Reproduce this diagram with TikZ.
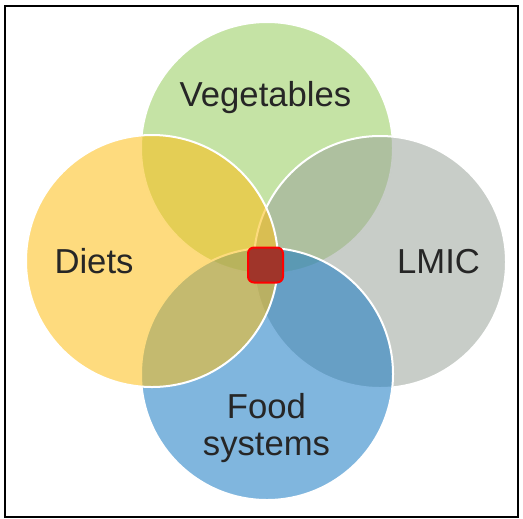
\documentclass[tikz,border=0pt]{standalone}
\usepackage{fontspec}
\setmainfont{Liberation Sans}
\usetikzlibrary{shapes}

\begin{document}
\begin{tikzpicture}[x=0.75pt,y=0.75pt,yscale=-1,xscale=1,
  venn/.style={draw=white, line width=1.5, fill opacity=0.55},
  lbl/.style={inner sep=0.75pt, text={rgb, 255:red, 38; green, 38; blue, 38 }, font=\fontsize{26}{27.75}\selectfont},
  core/.style={rectangle, rounded corners=4.5, minimum size=26.25pt, inner sep=0pt, line width=1.5,
    draw={rgb, 255:red, 255; green, 0; blue, 0 }, fill={rgb, 255:red, 160; green, 53; blue, 42 }}]
\useasboundingbox (0,0) rectangle (523,518);

%Shape: Rectangle [id:dp5518230417] 
\draw  [line width=1.5]  (5,6) rectangle (518,517) ;

%Shape: Circle [id:dp2904716631] 
\draw  [venn, fill={rgb, 255:red, 150; green, 204; blue, 91 }]  (267,148) circle (126) ;
%Shape: Circle [id:dp7310945162] 
\draw  [venn, fill={rgb, 255:red, 155; green, 164; blue, 155 }]  (380,262) circle (126) ;
%Shape: Circle [id:dp0864213557] 
\draw  [venn, fill={rgb, 255:red, 24; green, 122; blue, 195 }]  (267,374) circle (126) ;
%Shape: Circle [id:dp4471928036] 
\draw  [venn, fill={rgb, 255:red, 253; green, 190; blue, 20 }]  (152,261) circle (126) ;

%Shape: Rounded Rect [id:dp1938820045] 
\draw (265.5,265) node [core] (nexus) {};

% Text Node
\draw (265.5,106) node [lbl, anchor=base] (veg) {Vegetables};
% Text Node
\draw (94,273) node [lbl, anchor=base] (diets) {Diets};
% Text Node
\draw (438.5,273) node [lbl, anchor=base] (lmic) {LMIC};
% Text Node
\draw (266.5,428) node [lbl, align=center] (food) {Food\\systems};

\end{tikzpicture}
\end{document}
